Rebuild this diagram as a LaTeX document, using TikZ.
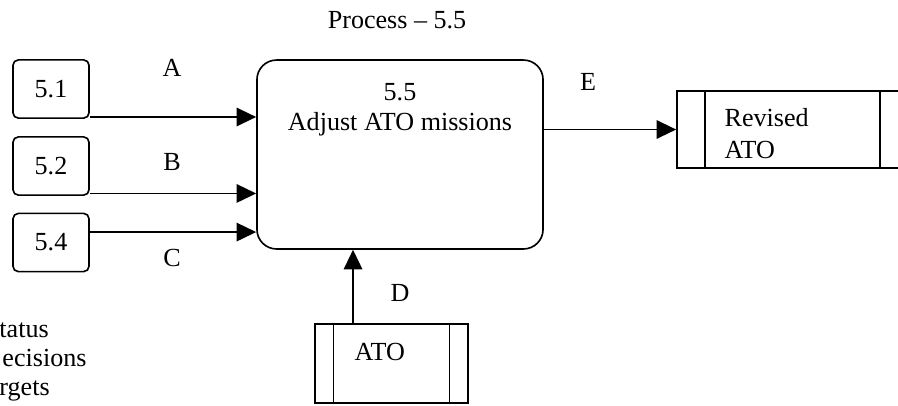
\documentclass[tikz,border=0pt]{standalone}
\usepackage{fontspec}
\setmainfont{Liberation Serif}
\usetikzlibrary{arrows.meta,positioning}
\begin{document}
\begin{tikzpicture}[x=0.46pt, y=-0.46pt, font=\fontsize{12}{14}\selectfont]
        \tikzstyle{src} = [rectangle, draw, line width=0.75pt, rounded corners=2.5pt, minimum width=35pt, minimum height=26.8pt]
        \tikzstyle{proc} = [rectangle, draw, line width=0.75pt, rounded corners=9pt, minimum width=131.6pt, minimum height=86.9pt]
        \tikzstyle{store} = [rectangle, draw, line width=0.75pt, inner sep=0pt,
            path picture={
                \draw[line width=0.75pt] ([xshift=#1]path picture bounding box.north west) -- ([xshift=#1]path picture bounding box.south west);
                \draw[line width=0.75pt] ([xshift=-#1]path picture bounding box.north east) -- ([xshift=-#1]path picture bounding box.south east);
            }]
        \tikzstyle{flow} = [line width=0.75pt, -{Triangle[length=9pt,width=8.5pt]}]

        \useasboundingbox (0,0) rectangle (898,405);

        % sources
        \foreach \n/\y in {1/89, 2/166, 4/242.5} {
            \node[src] (s\n) at (51, \y) {5.\n};
        }

        % process
        \node[proc] (p55) at (400, 154.5) {};
        \node[align=center] (p55txt) at (400, 110) {5.5\\Adjust ATO missions};
        \node (title) at (397, 20) {Process -- 5.5};

        % data stores
        \node[store=12.9pt, minimum width=106.3pt, minimum height=35.4pt] (rev) at (792.5, 129.5) {};
        \node[anchor=west, align=left, font=\fontsize{12}{15}\selectfont] (revtxt) at (717, 133.5) {Revised\\ATO};
        \node[store=8.6pt, minimum width=70.4pt, minimum height=36.3pt] (ato) at (391.5, 363.5) {};
        \node[anchor=west] (atotxt) at (347, 352) {ATO};

        % flows
        \draw[flow] ([yshift=0.9pt]s1.south east) -- ([yshift=0.9pt]s1.south east -| p55.west);
        \draw[flow] ([yshift=1.15pt]s2.south east) -- ([yshift=1.15pt]s2.south east -| p55.west);
        \draw[flow] ([yshift=4.8pt]s4.east) -- ([yshift=4.8pt]s4.east -| p55.west);
        \draw[flow] ([xshift=-17.7pt]ato.north) -- ([xshift=-17.7pt]ato.north |- p55.south);
        \draw[flow] (rev.west -| p55.east) -- (rev.west);

        \node (la) at (172, 68) {A};
        \node (lb) at (172, 162) {B};
        \node (lc) at (172, 258) {C};
        \node (ld) at (400, 293) {D};
        \node (le) at (588, 82) {E};

        % key, cut at the left edge
        \node[anchor=base west, inner sep=0pt] (k1) at (-1, 337) {tatus};
        \node[anchor=base west, inner sep=0pt] (k2) at (2, 366) {ecisions};
        \node[anchor=base west, inner sep=0pt] (k3) at (-1, 395) {rgets};
    \end{tikzpicture}
\end{document}
